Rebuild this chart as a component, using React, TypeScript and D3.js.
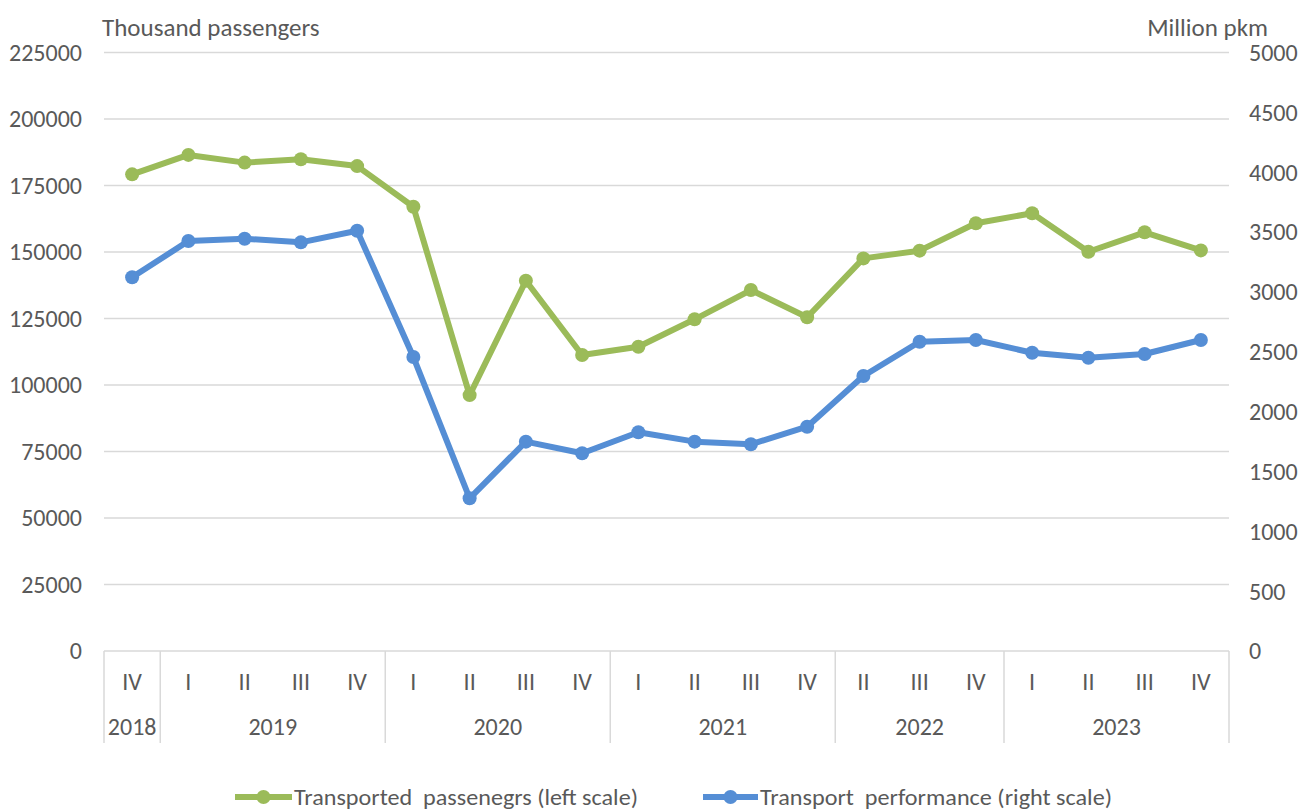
import React, { useEffect, useRef } from "react";
import * as d3 from "d3";

// quarters along the x axis (2022 I is missing in the source)
const years = [ "2018", "2019", "2019", "2019", "2019", "2020", "2020", "2020", "2020", "2021", "2021", "2021", "2021", "2022", "2022", "2022", "2023", "2023", "2023", "2023" ];
const quarters = [ "IV", "I", "II", "III", "IV", "I", "II", "III", "IV", "I", "II", "III", "IV", "II", "III", "IV", "I", "II", "III", "IV" ];

// thousand passengers, left scale
const passengers = [ 179200, 186500, 183600, 184850, 182300, 167000, 96200, 139200, 111300, 114400, 124700, 135700, 125450, 147600, 150500, 160800, 164550, 150100, 157400, 150600 ];

// million pkm, right scale
const performance = [ 3122, 3425, 3444, 3414, 3511, 2456, 1276, 1749, 1652, 1827, 1749, 1727, 1874, 2297, 2584, 2598, 2492, 2450, 2481, 2598 ];

const leftTicks = [ 0, 25000, 50000, 75000, 100000, 125000, 150000, 175000, 200000, 225000 ];
const rightTicks = [ 0, 500, 1000, 1500, 2000, 2500, 3000, 3500, 4000, 4500, 5000 ];

const GREEN = "#9BBB59";
const BLUE = "#558ED5";
const TEXT = "#595959";
const GRID = "#D9D9D9";
const FONT = "Carlito, Lato, sans-serif";

export default function App() {

	const ref = useRef<SVGSVGElement>( null );

	useEffect( () => {

		const svg = d3.select( ref.current );
		svg.selectAll( "*" ).remove();

		const left = 104, right = 1229, top = 52.5, bottom = 651;
		const keys = years.map( ( y, i ) => y + "-" + quarters[ i ] + "-" + i );

		const x = d3.scaleBand<string>()
			.domain( keys )
			.range( [ left, right ] );

		const yLeft = d3.scaleLinear()
			.domain( [ 0, 225000 ] )
			.range( [ bottom, top ] );

		const yRight = d3.scaleLinear()
			.domain( [ 0, 5000 ] )
			.range( [ bottom, top ] );

		const cx = ( i: number ) => ( x( keys[ i ] ) as number ) + x.bandwidth() / 2;

		// gridlines
		svg.append( "g" )
			.selectAll( "line" )
			.data( leftTicks.slice( 1 ) )
			.join( "line" )
				.attr( "x1", left )
				.attr( "x2", right )
				.attr( "y1", d => yLeft( d ) )
				.attr( "y2", d => yLeft( d ) )
				.attr( "stroke", GRID )
				.attr( "stroke-width", 1.5 );

		// left axis labels
		svg.append( "g" )
			.selectAll( "text" )
			.data( leftTicks )
			.join( "text" )
				.attr( "x", 82 )
				.attr( "y", d => yLeft( d ) )
				.attr( "dy", "0.35em" )
				.attr( "text-anchor", "end" )
				.attr( "fill", TEXT )
				.attr( "font-family", FONT )
				.attr( "font-size", 24 )
				.text( d => String( d ) );

		// right axis labels
		svg.append( "g" )
			.selectAll( "text" )
			.data( rightTicks )
			.join( "text" )
				.attr( "x", 1249 )
				.attr( "y", d => yRight( d ) )
				.attr( "dy", "0.35em" )
				.attr( "text-anchor", "start" )
				.attr( "fill", TEXT )
				.attr( "font-family", FONT )
				.attr( "font-size", 24 )
				.text( d => String( d ) );

		svg.append( "text" )
			.attr( "x", 102 )
			.attr( "y", 36 )
			.attr( "fill", TEXT )
			.attr( "font-family", FONT )
			.attr( "font-size", 25 )
			.text( "Thousand passengers" );

		svg.append( "text" )
			.attr( "x", 1268 )
			.attr( "y", 36 )
			.attr( "text-anchor", "end" )
			.attr( "fill", TEXT )
			.attr( "font-family", FONT )
			.attr( "font-size", 25 )
			.text( "Million pkm" );

		// category axis: box with year separators
		const axis = svg.append( "g" );
		axis.append( "line" )
			.attr( "x1", left ).attr( "x2", right )
			.attr( "y1", bottom ).attr( "y2", bottom )
			.attr( "stroke", GRID ).attr( "stroke-width", 1.5 );

		const groups: { year: string, first: number, last: number }[] = [];
		years.forEach( ( y, i ) => {
			const g = groups[ groups.length - 1 ];
			if ( g && g.year === y )
				g.last = i;
			else
				groups.push({ year: y, first: i, last: i });
		});

		const seps = [ left ].concat( groups.map( g => ( x( keys[ g.last ] ) as number ) + x.bandwidth() ) );
		axis.selectAll( "line.sep" )
			.data( seps )
			.join( "line" )
				.attr( "class", "sep" )
				.attr( "x1", d => d ).attr( "x2", d => d )
				.attr( "y1", bottom ).attr( "y2", 743 )
				.attr( "stroke", GRID ).attr( "stroke-width", 1.5 );

		axis.selectAll( "text.q" )
			.data( quarters )
			.join( "text" )
				.attr( "class", "q" )
				.attr( "x", ( d, i ) => cx( i ) )
				.attr( "y", 682 )
				.attr( "dy", "0.35em" )
				.attr( "text-anchor", "middle" )
				.attr( "fill", TEXT )
				.attr( "font-family", FONT )
				.attr( "font-size", 24 )
				.text( d => d );

		axis.selectAll( "text.y" )
			.data( groups )
			.join( "text" )
				.attr( "class", "y" )
				.attr( "x", d => ( cx( d.first ) + cx( d.last ) ) / 2 )
				.attr( "y", 727 )
				.attr( "dy", "0.35em" )
				.attr( "text-anchor", "middle" )
				.attr( "fill", TEXT )
				.attr( "font-family", FONT )
				.attr( "font-size", 24 )
				.text( d => d.year );

		// series
		const series = [
			{ values: passengers, scale: yLeft, color: GREEN },
			{ values: performance, scale: yRight, color: BLUE },
		];

		series.forEach( s => {

			const line = d3.line<number>()
				.x( ( d, i ) => cx( i ) )
				.y( d => s.scale( d ) );

			svg.append( "path" )
				.datum( s.values )
				.attr( "fill", "none" )
				.attr( "stroke", s.color )
				.attr( "stroke-width", 6 )
				.attr( "stroke-linejoin", "round" )
				.attr( "d", line );

			svg.append( "g" )
				.selectAll( "circle" )
				.data( s.values )
				.join( "circle" )
					.attr( "cx", ( d, i ) => cx( i ) )
					.attr( "cy", d => s.scale( d ) )
					.attr( "r", 7 )
					.attr( "fill", s.color );
		});

		// legend
		const legend = [
			{ label: "Transported  passenegrs (left scale)", color: GREEN, x0: 235, x1: 292, width: 344 },
			{ label: "Transport  performance (right scale)", color: BLUE, x0: 703, x1: 758, width: 352 },
		];

		legend.forEach( l => {
			const g = svg.append( "g" );
			g.append( "line" )
				.attr( "x1", l.x0 ).attr( "x2", l.x1 )
				.attr( "y1", 797 ).attr( "y2", 797 )
				.attr( "stroke", l.color ).attr( "stroke-width", 6 );
			g.append( "circle" )
				.attr( "cx", ( l.x0 + l.x1 ) / 2 )
				.attr( "cy", 797 )
				.attr( "r", 7 )
				.attr( "fill", l.color );
			g.append( "text" )
				.attr( "x", l.x1 + 2 )
				.attr( "y", 797 )
				.attr( "dy", "0.35em" )
				.attr( "fill", TEXT )
				.attr( "font-family", FONT )
				.attr( "font-size", 22 )
				.attr( "textLength", l.width )
				.attr( "lengthAdjust", "spacingAndGlyphs" )
				.style( "white-space", "pre" )
				.text( l.label );
		});

	}, [] );

	return (
		<div style={ { position: "absolute", left: 0, top: 0 } }>
			<svg ref={ ref } width={ 1304 } height={ 810 } style={ { display: "block", background: "#fff" } } />
		</div>
	);
}
